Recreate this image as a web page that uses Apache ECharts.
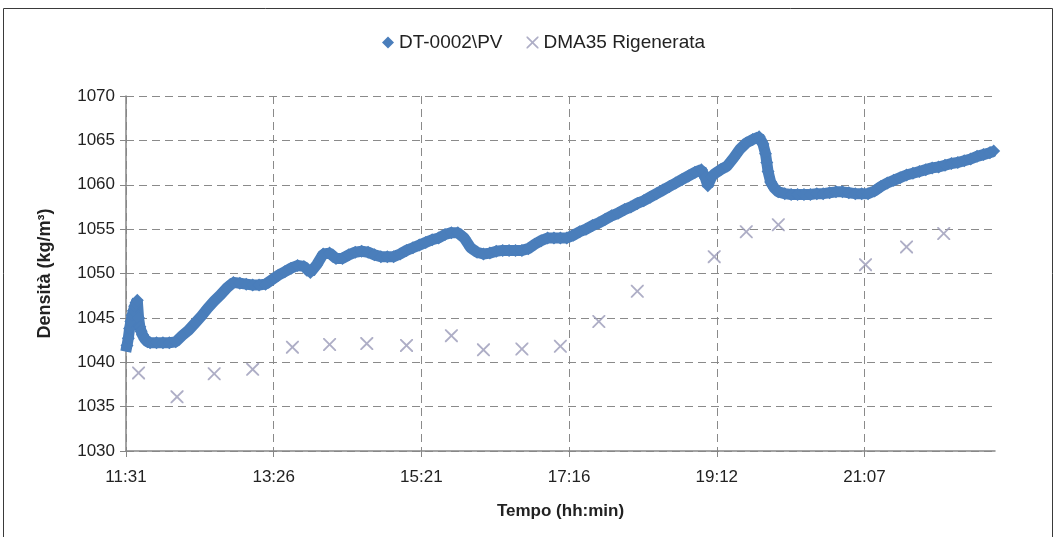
<!DOCTYPE html>
<html>
<head>
<meta charset="utf-8">
<script src="https://cdn.jsdelivr.net/npm/echarts@6/dist/echarts.min.js"></script>
<style>
  html, body { margin: 0; padding: 0; background: #fff; }
  #chart { width: 1057px; height: 537px; }
</style>
</head>
<body>
<div id="chart"></div>
<script>
// ---- Data ----
const seriesNames = ['DT-0002\\PV', 'DMA35 Rigenerata'];

const times1 = [
  '11:31','11:32','11:33','11:34','11:35','11:36','11:37','11:38','11:39','11:40',
  '11:41','11:42','11:43','11:44','11:46','11:48','11:50','11:55','12:00','12:05',
  '12:10','12:15','12:20','12:25','12:30','12:35','12:40','12:45','12:50','12:55',
  '13:00','13:05','13:10','13:15','13:20','13:25','13:30','13:35','13:40','13:45',
  '13:50','13:55','14:00','14:05','14:10','14:15','14:20','14:25','14:30','14:35',
  '14:40','14:45','14:50','14:55','15:00','15:05','15:10','15:15','15:20','15:25',
  '15:30','15:35','15:40','15:45','15:50','15:55','16:00','16:05','16:10','16:15',
  '16:20','16:25','16:30','16:35','16:40','16:45','16:50','16:55','17:00','17:05',
  '17:10','17:15','17:20','17:25','17:30','17:35','17:40','17:45','17:50','17:55',
  '18:00','18:05','18:10','18:15','18:20','18:25','18:30','18:35','18:40','18:45',
  '18:50','18:55','19:00','19:03','19:05','19:08','19:10','19:15','19:20','19:25',
  '19:30','19:35','19:40','19:45','19:48','19:50','19:51','19:52','19:54','19:57',
  '20:00','20:05','20:10','20:15','20:20','20:25','20:30','20:35','20:40','20:45',
  '20:50','20:55','21:00','21:05','21:10','21:15','21:20','21:25','21:30','21:35',
  '21:40','21:45','21:50','21:55','22:00','22:05','22:10','22:15','22:20','22:25',
  '22:30','22:35','22:40','22:45','22:48'
];
const vals1 = [
  1041.2,1041.9,1042.7,1043.8,1044.6,1045.3,1045.8,1046.3,1046.7,1047.0,
  1045.0,1044.0,1043.5,1043.1,1042.6,1042.3,1042.2,1042.2,1042.2,1042.2,
  1042.3,1043.0,1043.6,1044.4,1045.2,1046.1,1046.9,1047.6,1048.4,1049.0,
  1048.9,1048.8,1048.7,1048.7,1048.8,1049.3,1049.8,1050.2,1050.6,1050.9,
  1050.8,1050.1,1051.0,1052.2,1052.3,1051.7,1051.7,1052.1,1052.4,1052.5,
  1052.4,1052.1,1051.9,1051.9,1051.9,1052.2,1052.6,1052.9,1053.2,1053.5,
  1053.8,1054.0,1054.4,1054.6,1054.6,1054.0,1052.9,1052.4,1052.2,1052.3,
  1052.5,1052.6,1052.6,1052.6,1052.6,1052.8,1053.3,1053.7,1054.0,1054.0,
  1054.0,1054.0,1054.3,1054.7,1055.0,1055.4,1055.7,1056.1,1056.5,1056.8,
  1057.2,1057.5,1057.9,1058.2,1058.6,1059.0,1059.4,1059.8,1060.2,1060.6,
  1061.0,1061.4,1061.7,1060.8,1059.9,1060.9,1061.2,1061.7,1062.1,1063.0,
  1064.0,1064.7,1065.1,1065.4,1064.6,1063.5,1062.5,1061.5,1060.3,1059.6,
  1059.2,1059.0,1058.9,1058.9,1058.9,1058.9,1059.0,1059.0,1059.1,1059.2,
  1059.2,1059.1,1059.0,1059.0,1059.0,1059.3,1059.8,1060.2,1060.5,1060.8,
  1061.1,1061.3,1061.5,1061.7,1061.9,1062.0,1062.2,1062.4,1062.5,1062.7,
  1062.9,1063.2,1063.4,1063.6,1063.8
];

const times2 = [
  '11:41','12:11','12:40','13:10','13:41','14:10','14:39','15:10','15:45','16:10',
  '16:40','17:10','17:40','18:10','19:10','19:35','20:00','21:08','21:40','22:09'
];
const vals2 = [
  1038.8,1036.1,1038.7,1039.2,1041.7,1042.0,1042.1,1041.9,1043.0,1041.4,
  1041.5,1041.8,1044.6,1048.0,1051.9,1054.7,1055.5,1051.0,1053.0,1054.5
];

const xTickLabels = ['11:31','13:26','15:21','17:16','19:12','21:07'];
const yMin = 1030, yMax = 1070, yStep = 5;
// x axis in seconds of day: start 0.48 day, step 0.08 day (Excel style)
const X_MIN = 41472, X_STEP = 6912, X_MAX = 82140;

// ---- Build ----
const toSec = s => { const p = s.split(':').map(Number); return p[0]*3600 + p[1]*60 + (p[2] || 0); };
const data1 = times1.map((t, i) => [toSec(t), vals1[i]]);
const data2 = times2.map((t, i) => [toSec(t), vals2[i]]);
const xTickVals = xTickLabels.map((_, i) => X_MIN + i * X_STEP);

const FONT = 'Liberation Sans';
const TXT = '#222';
const AX = '#868686';
const BLUE = '#4A7EBB';
const GREY = '#9A9AB8';
const xMark = 'path://M0,0L1,0L5,4L9,0L10,0L10,1L6,5L10,9L10,10L9,10L5,6L1,10L0,10L0,9L4,5L0,1Z';

const chart = echarts.init(document.getElementById('chart'), null, { renderer: 'canvas' });
chart.setOption({
  animation: false,
  textStyle: { fontFamily: FONT, color: TXT },
  graphic: [{
    type: 'rect', silent: true, z: -1,
    shape: { x: 3.5, y: 8.5, width: 1049, height: 540 },
    style: { fill: 'none', stroke: '#3a3a3a', lineWidth: 1 }
  }],
  legend: {
    top: 28, left: 377,
    itemGap: 24, itemWidth: 12, itemHeight: 12,
    textStyle: { fontFamily: FONT, fontSize: 19, color: TXT },
    data: [
      { name: seriesNames[0], icon: 'diamond', itemStyle: { color: BLUE } },
      { name: seriesNames[1], icon: xMark, itemStyle: { color: GREY } }
    ]
  },
  grid: { left: 126, right: 62, top: 96, bottom: 86, containLabel: false },
  xAxis: {
    type: 'value', min: X_MIN, max: X_MAX, interval: X_STEP,
    name: 'Tempo (hh:min)', nameLocation: 'middle', nameGap: 52,
    nameTextStyle: { fontFamily: FONT, fontSize: 17, fontWeight: 'bold', color: TXT },
    axisLine: { lineStyle: { color: AX, width: 1.5 } },
    axisTick: { show: true, length: 6, customValues: xTickVals, lineStyle: { color: AX } },
    axisLabel: {
      customValues: xTickVals, margin: 18, fontSize: 17, color: TXT, fontFamily: FONT,
      formatter: v => xTickLabels[Math.round((v - X_MIN) / X_STEP)] || ''
    },
    splitLine: { show: true, lineStyle: { color: '#8a8a8a', type: [8, 5], width: 1 } }
  },
  yAxis: {
    type: 'value', min: yMin, max: yMax, interval: yStep,
    name: 'Densità (kg/m³)', nameLocation: 'middle', nameGap: 72, nameRotate: 90,
    nameTextStyle: { fontFamily: FONT, fontSize: 18, fontWeight: 'bold', color: TXT },
    axisLine: { show: true, lineStyle: { color: AX, width: 1.5 } },
    axisTick: { show: true, length: 6, lineStyle: { color: AX } },
    axisLabel: { margin: 11, fontSize: 17, color: TXT, fontFamily: FONT, formatter: v => String(v) },
    splitLine: { show: true, lineStyle: { color: '#8a8a8a', type: [8, 5], width: 1 } }
  },
  series: [
    {
      name: seriesNames[0], type: 'line', data: data1,
      symbol: 'diamond', symbolSize: 13, showAllSymbol: true,
      itemStyle: { color: BLUE },
      lineStyle: { color: BLUE, width: 11 },
      z: 3
    },
    {
      name: seriesNames[1], type: 'scatter', data: data2,
      symbol: xMark, symbolSize: 13,
      itemStyle: { color: GREY },
      z: 4
    }
  ]
});
</script>
</body>
</html>
